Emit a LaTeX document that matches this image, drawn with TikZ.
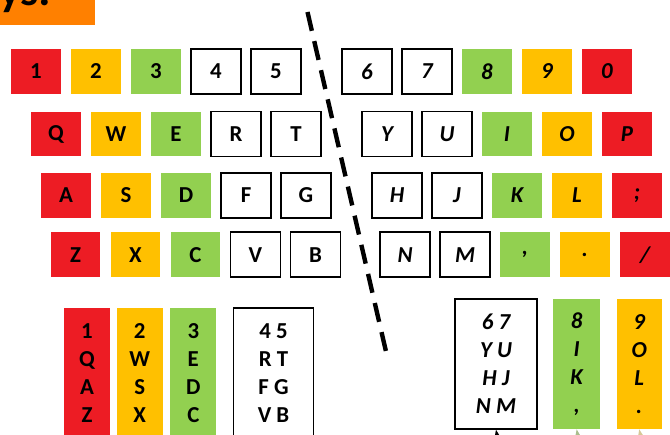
\documentclass[tikz,border=0pt]{standalone}
\usepackage{fontspec}
\setmainfont{Carlito}
\usetikzlibrary{arrows.meta}
\definecolor{rot}{RGB}{237,28,36}
\definecolor{gelb}{RGB}{255,192,0}
\definecolor{gruen}{RGB}{146,208,80}
\definecolor{titel}{RGB}{255,128,0}
\definecolor{pfeilgruen}{RGB}{170,190,140}
\definecolor{pfeilgelb}{RGB}{215,200,150}

\begin{document}
\begin{tikzpicture}[x=0.02cm, y=-0.02cm, >=Stealth,
		taste/.style={minimum width=1cm, minimum height=0.9cm, inner sep=0pt, font=\fontsize{13}{16}\selectfont\bfseries},
		links/.style={taste},
		rechts/.style={taste, font=\fontsize{13}{16}\selectfont\bfseries\itshape},
		weiss/.style={draw=black, line width=0.8pt, fill=white},
		spalte/.style={minimum width=0.92cm, minimum height=2.6cm, inner sep=0pt, align=center, font=\fontsize{13}{16}\selectfont\bfseries}]
			
	\useasboundingbox (0,0) rectangle (670,435);
	
	\fill[titel] (0,0) rectangle (95,24.7);
	\node[anchor=base west, inner sep=0pt, font=\fontsize{26}{26}\selectfont\bfseries] (ueberschrift) at (-1,6) {ys:};
	
	\coordinate (trennoben) at (307.5,12);
	\coordinate (trennunten) at (387.5,358);
	\draw[line width=2.5pt, dash pattern=on 11pt off 6pt] (trennoben) -- (trennunten);
			
	\node[links, fill=rot] (k1) at (36,71.5) {1};
	\node[links, fill=gelb] (k2) at (96,71.5) {2};
	\node[links, fill=gruen] (k3) at (156,71.5) {3};
	\node[links, weiss] (k4) at (216,71.5) {4};
	\node[links, weiss] (k5) at (276,71.5) {5};
	\node[rechts, weiss] (k6) at (367,71.5) {6};
	\node[rechts, weiss] (k7) at (427,71.5) {7};
	\node[rechts, fill=gruen] (k8) at (487,71.5) {8};
	\node[rechts, fill=gelb] (k9) at (547,71.5) {9};
	\node[rechts, fill=rot] (k0) at (607,71.5) {0};
	
	\node[links, fill=rot] (kQ) at (56,134) {Q};
	\node[links, fill=gelb] (kW) at (116,134) {W};
	\node[links, fill=gruen] (kE) at (176,134) {E};
	\node[links, weiss] (kR) at (236,134) {R};
	\node[links, weiss] (kT) at (296,134) {T};
	\node[rechts, weiss] (kY) at (387,134) {Y};
	\node[rechts, weiss] (kU) at (447,134) {U};
	\node[rechts, fill=gruen] (kI) at (507,134) {I};
	\node[rechts, fill=gelb] (kO) at (567,134) {O};
	\node[rechts, fill=rot] (kP) at (627,134) {P};
	
	\node[links, fill=rot] (kA) at (66,195.5) {A};
	\node[links, fill=gelb] (kS) at (126,195.5) {S};
	\node[links, fill=gruen] (kD) at (186,195.5) {D};
	\node[links, weiss] (kF) at (246,195.5) {F};
	\node[links, weiss] (kG) at (306,195.5) {G};
	\node[rechts, weiss] (kH) at (397,195.5) {H};
	\node[rechts, weiss] (kJ) at (457,195.5) {J};
	\node[rechts, fill=gruen] (kK) at (517,195.5) {K};
	\node[rechts, fill=gelb] (kL) at (577,195.5) {L};
	\node[rechts, fill=rot] (ksemi) at (637,195.5) {;};
	
	\node[links, fill=rot] (kZ) at (75.5,254.7) {Z};
	\node[links, fill=gelb] (kX) at (135.5,254.7) {X};
	\node[links, fill=gruen] (kC) at (195.5,254.7) {C};
	\node[links, weiss] (kV) at (255.5,254.7) {V};
	\node[links, weiss] (kB) at (315.5,254.7) {B};
	\node[rechts, weiss] (kN) at (405,254.7) {N};
	\node[rechts, weiss] (kM) at (465,254.7) {M};
	\node[rechts, fill=gruen] (kkomma) at (525,254.7) {,};
	\node[rechts, fill=gelb] (kpunkt) at (585,254.7) {.};
	\node[rechts, fill=rot] (kstrich) at (645,254.7) {/};
	
	\node[spalte, fill=rot] (srot) at (87,373) {1\\Q\\A\\Z};
	\node[spalte, fill=gelb] (sgelb) at (139.7,373) {2\\W\\S\\X};
	\node[spalte, fill=gruen] (sgruen) at (193.3,373) {3\\E\\D\\C};
	\node[spalte, weiss, minimum width=1.6cm] (sweiss) at (273.5,373) {4 5\\R T\\F G\\V B};
	
	\node[spalte, weiss, minimum width=1.64cm, font=\fontsize{13}{16}\selectfont\bfseries\itshape] (hweiss) at (496,364) {6 7\\Y U\\H J\\N M};
	\node[spalte, fill=gruen, minimum width=0.94cm, font=\fontsize{13}{16}\selectfont\bfseries\itshape] (hgruen) at (576.7,364) {8\\I\\K\\,};
	\node[spalte, fill=gelb, minimum width=0.9cm, font=\fontsize{13}{16}\selectfont\bfseries\itshape] (hgelb) at (639.2,364) {9\\O\\L\\.};
	
	\coordinate (pa) at (505,480);
	\coordinate (pb) at (585,480);
	\coordinate (pc) at (650,480);
	\draw[->, thick, black] (pa) -- (hweiss.south);
	\draw[->, thick, pfeilgruen] (pb) -- (hgruen.south);
	\draw[->, thick, pfeilgelb] (pc) -- (hgelb.south);
			
\end{tikzpicture}
\end{document}
